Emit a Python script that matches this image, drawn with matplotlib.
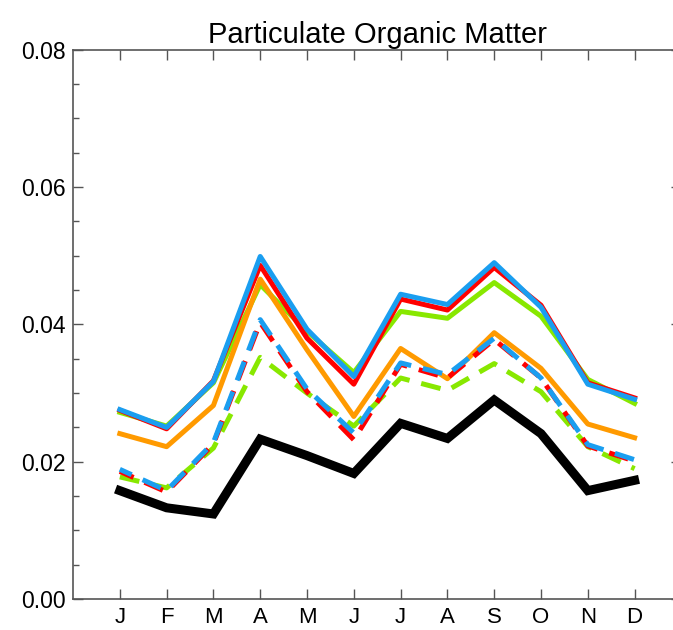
import numpy as np
import matplotlib
matplotlib.use('Agg')
import matplotlib.pyplot as plt
from matplotlib.ticker import MultipleLocator

# monthly values
months = ['J', 'F', 'M', 'A', 'M', 'J', 'J', 'A', 'S', 'O', 'N', 'D']

green_solid = [0.0272, 0.0252, 0.0315, 0.0458, 0.0390, 0.0330, 0.0419, 0.0409, 0.0461, 0.0412, 0.0320, 0.0285]
red_solid = [0.0275, 0.0248, 0.0318, 0.0486, 0.0380, 0.0313, 0.0437, 0.0421, 0.0483, 0.0428, 0.0315, 0.0293]
blue_solid = [0.0276, 0.0250, 0.0317, 0.0499, 0.0393, 0.0324, 0.0444, 0.0429, 0.0490, 0.0425, 0.0313, 0.0291]
orange_solid = [0.0241, 0.0222, 0.0282, 0.0466, 0.0363, 0.0266, 0.0365, 0.0321, 0.0388, 0.0336, 0.0255, 0.0235]

red_dash = [0.0186, 0.0156, 0.0226, 0.0403, 0.0302, 0.0232, 0.0342, 0.0322, 0.0378, 0.0322, 0.0223, 0.0201]
blue_dash = [0.0189, 0.0158, 0.0228, 0.0407, 0.0306, 0.0242, 0.0344, 0.0327, 0.0380, 0.0322, 0.0225, 0.0203]
green_dash = [0.0178, 0.0162, 0.0220, 0.0352, 0.0300, 0.0252, 0.0322, 0.0304, 0.0343, 0.0302, 0.0222, 0.0190]

black_line = [0.0158, 0.0133, 0.0124, 0.0233, 0.0209, 0.0183, 0.0256, 0.0234, 0.0290, 0.0241, 0.0158, 0.0173]

plt.rcParams['font.family'] = ['Liberation Sans', 'DejaVu Sans']

x = np.arange(1, 13)

fig = plt.figure(figsize=(6.73, 6.30), dpi=100)
ax = fig.add_axes([0.1085, 0.049, 0.904, 0.872])

# solid lines
ax.plot(x, green_solid, color='#88e800', lw=3.6)
ax.plot(x, red_solid, color='#ff0000', lw=3.6)
ax.plot(x, blue_solid, color='#1a9ef0', lw=3.6)
ax.plot(x, orange_solid, color='#ff9a00', lw=3.6)

# dashed lines
ax.plot(x, green_dash, color='#88e800', lw=3.6, linestyle=(0, (4.0, 2.4)))
ax.plot(x, red_dash, color='#ff0000', lw=3.6, linestyle=(1.0, (4.0, 2.4)))
ax.plot(x, blue_dash, color='#1a9ef0', lw=3.6, linestyle=(1.4, (4.0, 2.4)))

ax.plot(x, black_line, color='black', lw=6.5, solid_joinstyle='miter')

ax.set_xlim(0, 13)
ax.set_ylim(0, 0.08)
ax.set_xticks(x)
ax.set_xticklabels(months)
ax.set_yticks([0.0, 0.02, 0.04, 0.06, 0.08])
ax.set_yticklabels(['0.00', '0.02', '0.04', '0.06', '0.08'])
ax.yaxis.set_minor_locator(MultipleLocator(0.005))

ax.tick_params(axis='both', which='both', direction='in', top=True, right=True,
               labelsize=16.5, color='#555555', width=1.0)
ax.tick_params(axis='both', which='major', length=7.5)
ax.tick_params(axis='y', which='minor', length=4.5)
ax.tick_params(axis='x', pad=5.5, labelsize=16)
ax.tick_params(axis='y', pad=5)
for sp in ax.spines.values():
    sp.set_color('#555555')
    sp.set_linewidth(1.2)

ax.set_title('Particulate Organic Matter', fontsize=21, pad=5)

plt.savefig('out.png', dpi=100)
